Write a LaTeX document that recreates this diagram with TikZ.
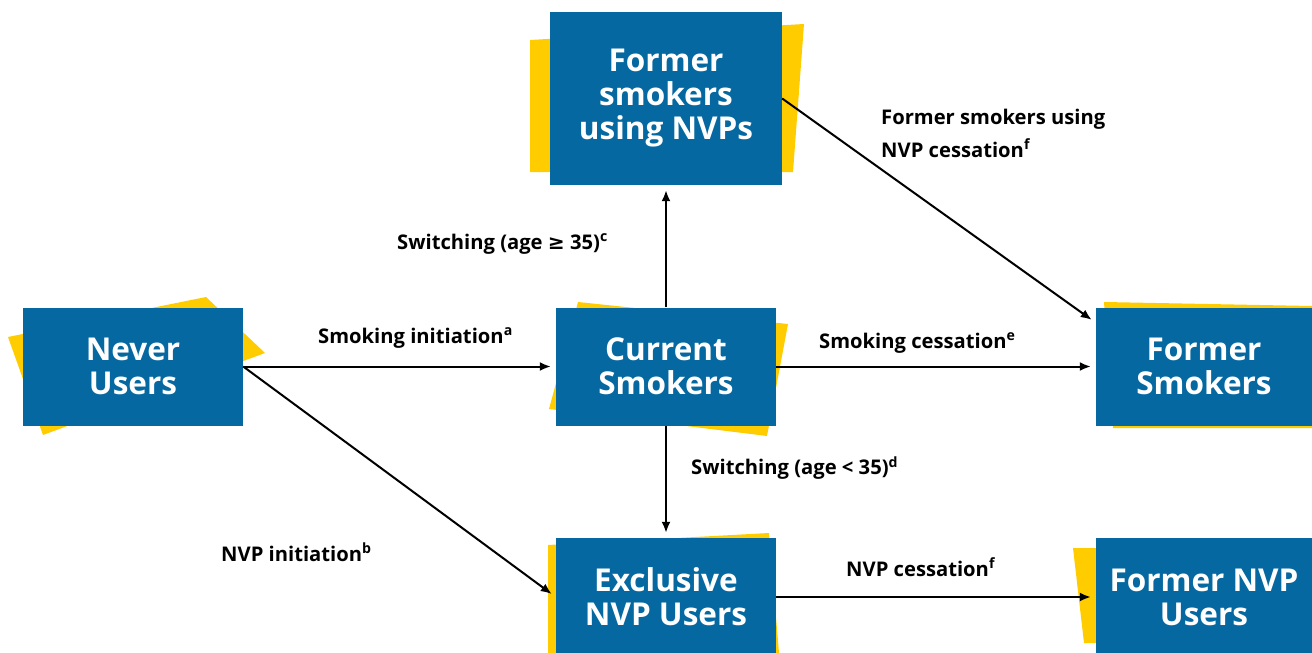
\documentclass[tikz,border=0pt]{standalone}
\usepackage{fontspec}
\setmainfont{Open Sans}
\newfontfamily\symfont{DejaVu Sans}
\usetikzlibrary{arrows.meta}
\definecolor{nvpblue}{RGB}{5,104,160}
\definecolor{nvpyellow}{RGB}{255,204,0}
\tikzset{
  statebox/.style={fill=nvpblue, text=white, align=center, inner sep=0pt,
    font=\fontsize{31.5}{34}\selectfont\bfseries},
  flowlabel/.style={anchor=west, inner sep=0pt, align=left,
    font=\fontsize{20.2}{33}\selectfont\bfseries},
  flow/.style={-{Latex[length=11pt,width=9pt]}, line width=2pt, shorten >=5pt}
}
\begin{document}
\begin{tikzpicture}[x=1pt,y=-1pt]
  \useasboundingbox (0,0) rectangle (1312,653);
  \fill[nvpyellow] (530,40) -- (804,24) -- (793,172) -- (530,172) -- cycle;
  \fill[nvpyellow] (8,337) -- (206,297) -- (265,353) -- (43,435) -- cycle;
  \fill[nvpyellow] (578,302) -- (788,324) -- (767,436) -- (549,409) -- cycle;
  \fill[nvpyellow] (1104,302) -- (1312,306) -- (1312,428) -- (1113,428) -- cycle;
  \fill[nvpyellow] (548,545) -- (769,533) -- (779,653) -- (548,653) -- cycle;
  \fill[nvpyellow] (1073,548) -- (1100,548) -- (1100,643) -- (1084,643) -- cycle;
  \path
    (666,98.5) node[statebox, minimum width=232pt, minimum height=173pt] (fsnvp) {Former\\smokers\\using NVPs}
    (133,366.5) node[statebox, minimum width=220pt, minimum height=118pt] (never) {Never\\Users}
    (666,366.5) node[statebox, minimum width=220pt, minimum height=118pt] (current) {Current\\Smokers}
    (1204,366.5) node[statebox, minimum width=216pt, minimum height=118pt] (former) {Former\\Smokers}
    (666,597) node[statebox, minimum width=220pt, minimum height=118pt] (exclusive) {Exclusive\\NVP Users}
    (1204,597) node[statebox, minimum width=216pt, minimum height=118pt] (formernvp) {Former NVP\\Users};
  \path
    (318,338) node[flowlabel] (smokinit) {Smoking initiation\textsuperscript{a}}
    (221,552) node[flowlabel] (nvpinit) {NVP initiation\textsuperscript{b}}
    (397,244) node[flowlabel] (switchhi) {Switching (age {\symfont ≥} 35)\textsuperscript{c}}
    (881,133) node[flowlabel] (fsnvpcess) {Former smokers using\\NVP cessation\textsuperscript{f}}
    (819,343) node[flowlabel] (smokcess) {Smoking cessation\textsuperscript{e}}
    (691,468) node[flowlabel] (switchlo) {Switching (age < 35)\textsuperscript{d}}
    (846,567) node[flowlabel] (nvpcess) {NVP cessation\textsuperscript{f}};
  \begin{scope}[flow]
    \draw (never) to (current);
    \draw (never.east) to (exclusive.west);
    \draw (current) to (fsnvp);
    \draw (current) to (exclusive);
    \draw (current) to (former);
    \draw (fsnvp.east) to (former.158);
    \draw (exclusive) to (formernvp);
  \end{scope}
\end{tikzpicture}
\end{document}
